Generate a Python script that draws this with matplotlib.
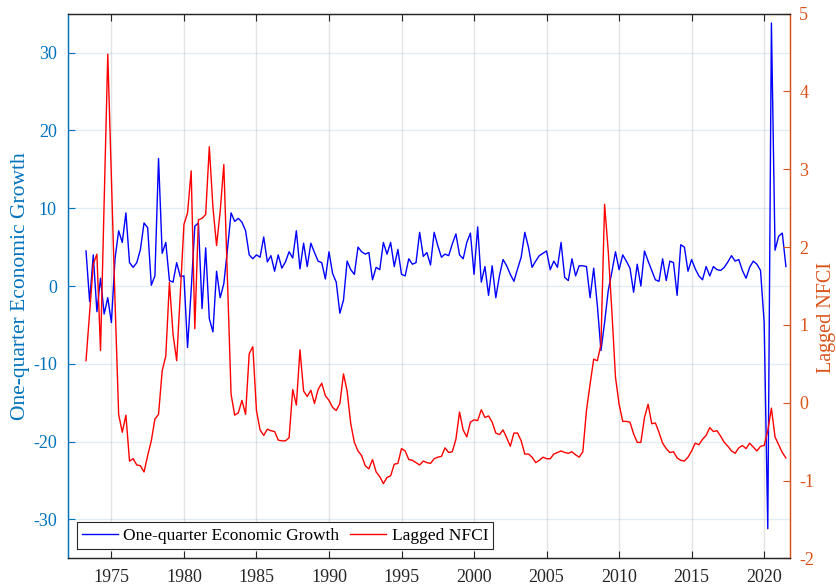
import numpy as np
import matplotlib
matplotlib.use("Agg")
import matplotlib.pyplot as plt

# Quarterly dates: 1973Q2 ... 2021Q3 (plotted at year + (q-1)/4)
start_year, start_q = 1973, 2
n_quarters = 194
dates = np.array([start_year + (start_q - 1 + k) / 4.0 for k in range(n_quarters)])

# One-quarter economic growth (annualised %, left axis)
growth = [
    4.5, -2.0, 4.0,                       # 1973 Q2-Q4
    -3.3, 1.0, -3.6, -1.5,                # 1974
    -4.7, 3.5, 7.1, 5.6,                  # 1975
    9.4, 3.0, 2.4, 3.0,                   # 1976
    4.7, 8.1, 7.5, 0.1,                   # 1977
    1.3, 16.4, 4.2, 5.6,                  # 1978
    0.7, 0.5, 3.0, 1.2,                   # 1979
    1.3, -7.9, -0.5, 7.7,                 # 1980
    8.1, -2.9, 4.9, -4.2,                 # 1981
    -5.9, 1.9, -1.5, 0.3,                 # 1982
    4.7, 9.4, 8.3, 8.7,                   # 1983
    8.2, 7.1, 4.0, 3.5,                   # 1984
    4.0, 3.7, 6.3, 3.1,                   # 1985
    3.9, 1.9, 4.0, 2.3,                   # 1986
    3.1, 4.4, 3.6, 7.1,                   # 1987
    2.2, 5.5, 2.5, 5.5,                   # 1988
    4.3, 3.2, 3.0, 0.9,                   # 1989
    4.4, 1.6, 0.5, -3.5,                  # 1990
    -1.8, 3.2, 2.1, 1.5,                  # 1991
    5.0, 4.4, 4.1, 4.3,                   # 1992
    0.8, 2.4, 2.1, 5.6,                   # 1993
    4.1, 5.6, 2.5, 4.7,                   # 1994
    1.5, 1.3, 3.5, 2.8,                   # 1995
    3.0, 6.9, 3.8, 4.3,                   # 1996
    2.7, 6.9, 5.2, 3.7,                   # 1997
    4.1, 3.9, 5.4, 6.7,                   # 1998
    4.0, 3.5, 5.6, 6.8,                   # 1999
    1.5, 7.6, 0.5, 2.5,                   # 2000
    -1.2, 2.6, -1.5, 1.3,                 # 2001
    3.4, 2.6, 1.5, 0.6,                   # 2002
    2.2, 3.7, 6.9, 5.0,                   # 2003
    2.4, 3.2, 3.9, 4.2,                   # 2004
    4.5, 2.1, 3.2, 2.4,                   # 2005
    5.6, 1.1, 0.7, 3.5,                   # 2006
    1.3, 2.6, 2.6, 2.5,                   # 2007
    -1.5, 2.3, -2.5, -8.3,                # 2008
    -4.7, -0.6, 1.8, 4.4,                 # 2009
    2.1, 4.0, 3.2, 2.3,                   # 2010
    -0.8, 2.8, 0.0, 4.5,                  # 2011
    3.2, 2.0, 0.8, 0.6,                   # 2012
    3.5, 0.7, 3.2, 3.0,                   # 2013
    -1.2, 5.3, 5.0, 1.9,                  # 2014
    3.4, 2.2, 1.3, 0.8,                   # 2015
    2.5, 1.3, 2.5, 2.1,                   # 2016
    2.0, 2.4, 3.1, 3.9,                   # 2017
    3.2, 3.4, 2.0, 1.0,                   # 2018
    2.4, 3.2, 2.8, 2.0,                   # 2019
    -4.7, -31.2, 33.8, 4.6,               # 2020
    6.4, 6.8, 2.5,                        # 2021 Q1-Q3
]

# Lagged NFCI (right axis)
nfci = [
    0.54, 1.16, 1.78,                     # 1973 Q2-Q4
    1.91, 0.67, 2.60, 4.48,               # 1974
    2.90, 1.30, -0.15, -0.38,             # 1975
    -0.16, -0.75, -0.72, -0.80,           # 1976
    -0.81, -0.89, -0.68, -0.49,           # 1977
    -0.21, -0.15, 0.41, 0.60,             # 1978
    1.55, 0.88, 0.54, 1.40,               # 1979
    2.29, 2.44, 2.98, 0.95,               # 1980
    2.35, 2.37, 2.42, 3.29,               # 1981
    2.51, 2.02, 2.46, 3.06,               # 1982
    1.60, 0.11, -0.16, -0.13,             # 1983
    0.03, -0.15, 0.63, 0.72,              # 1984
    -0.10, -0.35, -0.42, -0.34,           # 1985
    -0.36, -0.37, -0.48, -0.49,           # 1986
    -0.49, -0.45, 0.17, -0.03,            # 1987
    0.68, 0.15, 0.08, 0.16,               # 1988
    -0.01, 0.17, 0.25, 0.09,              # 1989
    0.03, -0.06, -0.10, -0.01,            # 1990
    0.37, 0.15, -0.27, -0.51,             # 1991
    -0.62, -0.68, -0.81, -0.85,           # 1992
    -0.73, -0.89, -0.95, -1.04,           # 1993
    -0.96, -0.94, -0.79, -0.78,           # 1994
    -0.59, -0.62, -0.73, -0.74,           # 1995
    -0.77, -0.80, -0.75, -0.77,           # 1996
    -0.78, -0.72, -0.70, -0.69,           # 1997
    -0.58, -0.64, -0.63, -0.47,           # 1998
    -0.12, -0.35, -0.44, -0.25,           # 1999
    -0.22, -0.23, -0.09, -0.19,           # 2000
    -0.17, -0.25, -0.39, -0.41,           # 2001
    -0.35, -0.45, -0.56, -0.39,           # 2002
    -0.39, -0.49, -0.66, -0.66,           # 2003
    -0.70, -0.77, -0.74, -0.70,           # 2004
    -0.72, -0.72, -0.66, -0.64,           # 2005
    -0.62, -0.64, -0.65, -0.63,           # 2006
    -0.67, -0.70, -0.63, -0.10,           # 2007
    0.24, 0.56, 0.54, 0.75,               # 2008
    2.55, 1.95, 1.18, 0.33,               # 2009
    -0.02, -0.24, -0.24, -0.25,           # 2010
    -0.40, -0.51, -0.51, -0.19,           # 2011
    -0.02, -0.27, -0.26, -0.38,           # 2012
    -0.52, -0.59, -0.64, -0.63,           # 2013
    -0.71, -0.74, -0.75, -0.70,           # 2014
    -0.62, -0.52, -0.54, -0.47,           # 2015
    -0.42, -0.32, -0.37, -0.36,           # 2016
    -0.43, -0.51, -0.56, -0.62,           # 2017
    -0.65, -0.58, -0.55, -0.59,           # 2018
    -0.52, -0.57, -0.62, -0.56,           # 2019
    -0.55, -0.36, -0.07, -0.44,           # 2020
    -0.54, -0.64, -0.71,                  # 2021 Q1-Q3
]

year_ticks = [1975, 1980, 1985, 1990, 1995, 2000, 2005, 2010, 2015, 2020]
left_ticks = [-30, -20, -10, 0, 10, 20, 30]
right_ticks = [-2, -1, 0, 1, 2, 3, 4, 5]

LEFT_C = "#0072BD"
RIGHT_C = "#D95319"
AX_C = "#262626"

plt.rcParams["font.family"] = ["Liberation Serif", "DejaVu Serif"]
plt.rcParams["axes.unicode_minus"] = False

fig = plt.figure(figsize=(8.37, 5.85), dpi=100)
ax = fig.add_axes([0.0811, 0.0456, 0.8622, 0.931])
ax2 = ax.twinx()

l1, = ax.plot(dates, growth, color="#0000FF", lw=1.0, label="One-quarter Economic Growth")
l2, = ax2.plot(dates, nfci, color="#FF0000", lw=1.0, label="Lagged NFCI")

ax.set_xlim(1972, 2021.75)
ax.set_ylim(-35, 35)
ax2.set_ylim(-2, 5)
ax.set_xticks(year_ticks)
ax.set_yticks(left_ticks)
ax2.set_yticks(right_ticks)

# grid
for t in left_ticks:
    ax.axhline(t, color=LEFT_C, alpha=0.12, lw=1.0, zorder=0)
for t in year_ticks:
    ax.axvline(t, color=AX_C, alpha=0.12, lw=1.0, zorder=0)

ax.tick_params(axis="x", direction="in", top=True, length=5, colors=AX_C,
               labelsize=13, pad=8, width=0.8)
ax.tick_params(axis="y", direction="in", length=5, colors=LEFT_C, labelsize=13,
               width=0.8, pad=8)
ax2.tick_params(axis="y", direction="in", length=5, colors=RIGHT_C, labelsize=13,
                width=0.8, pad=7)
ax2.tick_params(axis="x", top=False, bottom=False)

for s in ["top", "bottom"]:
    ax.spines[s].set_color(AX_C)
    ax2.spines[s].set_color(AX_C)
ax.spines["left"].set_color(LEFT_C)
ax2.spines["left"].set_color(LEFT_C)
ax2.spines["right"].set_color(RIGHT_C)
ax.spines["right"].set_color(RIGHT_C)
for a in (ax, ax2):
    for s in a.spines.values():
        s.set_linewidth(0.9)

ax.set_ylabel("One-quarter Economic Growth", color=LEFT_C, fontsize=15.5,
              rotation=90, va="center", ha="center")
ax.yaxis.set_label_coords(-0.066, 0.5)
ax2.set_ylabel("Lagged NFCI", color=RIGHT_C, fontsize=14.5, rotation=90,
               va="center", ha="center")
ax2.yaxis.set_label_coords(1.051, 0.443)

leg = ax2.legend([l1, l2], [l1.get_label(), l2.get_label()], ncol=2,
                 loc="lower left", bbox_to_anchor=(0.012, 0.017), borderaxespad=0,
                 fontsize=12.5, frameon=True, fancybox=False, framealpha=1,
                 edgecolor="#262626", handlelength=2.1, handletextpad=0.3,
                 columnspacing=0.6, borderpad=0.3)
leg.get_frame().set_linewidth(0.8)

fig.savefig("out.png", dpi=100)
